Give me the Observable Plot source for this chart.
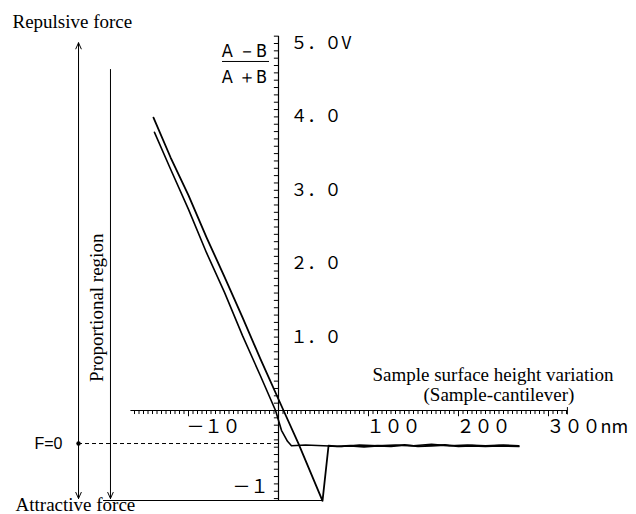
<!DOCTYPE html>
<html><head><meta charset="utf-8">
<script src="https://cdn.jsdelivr.net/npm/d3@7"></script>
<script src="https://cdn.jsdelivr.net/npm/@observablehq/plot@0.6"></script>
<style>body{margin:0;background:#fff}</style>
</head><body><div id="chart"></div>
<script>
// ---- data (x in nm, y in V) ----
const retractX = [-138.9,-120,-100,-80,-60,-40,-20,5.6,22.2,48.9,55.6,65,80,95,110,125,140,155,170,185,200,215,230,245,267];
const retractV = [3.99,3.45,2.93,2.36,1.82,1.27,0.70,0,-0.45,-1.23,-0.48,-0.49,-0.48,-0.495,-0.48,-0.49,-0.47,-0.49,-0.48,-0.47,-0.49,-0.48,-0.49,-0.48,-0.49];
const approachX = [-137.8,-120,-100,-80,-60,-40,-20,-3.3,3.3,10,14.4,30,50,70,90,110,130,150,170,190,210,230,250,267];
const approachV = [3.79,3.29,2.74,2.15,1.61,1.02,0.47,0,-0.27,-0.42,-0.48,-0.47,-0.48,-0.49,-0.47,-0.48,-0.47,-0.48,-0.46,-0.48,-0.47,-0.48,-0.47,-0.48];

const yLabelValues = [5,4,3,2,1];
const yLabels = ["５．０V","４．０","３．０","２．０","１．０"];
const yNegValues = [-1];
const yNegLabels = ["－１"];
const xLabelValues = [-100,100,200,300];
const xLabels = ["－１０","１００","２００","３００nm"];

const fLevel = -0.45;            // F=0 level (V)
const xAxisStart = -164, xAxisEnd = 321;
const yAxisBottom = -1.226, yAxisTop = 5.1;
const xTicks = d3.range(-160, 321, 5);
const yTicks = d3.range(-12, 52, 1).map(d => d / 10);

const retract = retractX.map((x, i) => ({x, v: retractV[i]}));
const approach = approachX.map((x, i) => ({x, v: approachV[i]}));

const serif = "Liberation Serif, Times New Roman, serif";
const cjk = "Noto Sans CJK JP, sans-serif";
const narrow = "Liberation Sans Narrow, DejaVu Sans Condensed, Arial Narrow, Liberation Sans, sans-serif";

const annotations = [
  {x: -295.6, v: 5.30, text: "Repulsive force", anchor: "start", rotate: 0, font: serif, size: 19},
  {x: -292.2, v: -1.281, text: "Attractive force", anchor: "start", rotate: 0, font: serif, size: 19},
  {x: -202.2, v: 1.40, text: "Proportional region", anchor: "middle", rotate: -90, font: serif, size: 19},
  {x: 104.4, v: 0.49, text: "Sample surface height variation", anchor: "start", rotate: 0, font: serif, size: 19},
  {x: 161.1, v: 0.218, text: "(Sample-cantilever)", anchor: "start", rotate: 0, font: serif, size: 19},
  {x: -240, v: fLevel, text: "F=0", anchor: "end", rotate: 0, font: "Liberation Sans, Arial, sans-serif", size: 16},
  {x: -37.8, v: 4.90, text: "A －B", anchor: "middle", rotate: 0, font: narrow, size: 18},
  {x: -37.8, v: 4.54, text: "A ＋B", anchor: "middle", rotate: 0, font: narrow, size: 18}
];

const plot = Plot.plot({
  width: 636, height: 514,
  margin: 0,
  x: {domain: [-278/0.9, (636-278)/0.9], axis: null},
  y: {domain: [-104/73.4, 410/73.4], axis: null},
  style: {background: "white", overflow: "visible"},
  marks: [
    // y axis
    Plot.ruleX([0], {y1: yAxisBottom, y2: yAxisTop, stroke: "black", strokeWidth: 1.2}),
    Plot.ruleY(yTicks, {y: d => d, x1: 0, x2: -4.6, stroke: "black", strokeWidth: 1}),
    // x axis
    Plot.ruleY([0], {x1: xAxisStart, x2: xAxisEnd, stroke: "black", strokeWidth: 1.2}),
    Plot.ruleX(xTicks, {x: d => d, y1: 0, y2: d => d % 100 === 0 ? -0.085 : -0.055, stroke: "black", strokeWidth: 1}),
    Plot.ruleX([xAxisEnd], {y1: 0.04, y2: -0.06, stroke: "black"}),
    // tick labels
    Plot.text(yLabelValues, {x: 0, y: d => d, text: (d, i) => yLabels[i], textAnchor: "start", dx: 12, fontSize: 17, fontFamily: cjk, fill: "black"}),
    Plot.text(yNegValues, {x: 0, y: d => d, text: (d, i) => yNegLabels[i], textAnchor: "end", dx: -10, dy: 3, fontSize: 18, fontFamily: cjk, fill: "black"}),
    Plot.text(xLabelValues, {x: d => d, y: 0, text: (d, i) => xLabels[i], textAnchor: "start", dx: -2, dy: 17, fontSize: 18, fontFamily: cjk, fill: "black"}),
    // guides: force arrows, proportional region, F=0 line, bottom line
    Plot.arrow([0], {x1: -222.2, x2: -222.2, y1: -1.19, y2: 5.01, stroke: "black", strokeWidth: 1, headLength: 10, headAngle: 48}),
    Plot.arrow([0], {x1: -222.2, x2: -222.2, y1: 5.0, y2: -1.199, stroke: "black", strokeWidth: 1, headLength: 10, headAngle: 48}),
    Plot.arrow([0], {x1: -186.7, x2: -186.7, y1: 4.646, y2: -1.199, stroke: "black", strokeWidth: 1, headLength: 10, headAngle: 48}),
    Plot.ruleY([yAxisBottom], {x1: -194.4, x2: 48.9, stroke: "black", strokeWidth: 1.2}),
    Plot.ruleY([fLevel], {x1: -222.2, x2: 3, stroke: "black", strokeWidth: 1, strokeDasharray: "4,3"}),
    Plot.dot([fLevel], {x: -222.2, y: d => d, r: 2.2, fill: "black", stroke: null}),
    // fraction bar
    Plot.ruleY([4.755], {x1: -62.2, x2: -10, stroke: "black", strokeWidth: 1}),
    // curves
    Plot.line(approach, {x: "x", y: "v", stroke: "black", strokeWidth: 1.6}),
    Plot.line(retract, {x: "x", y: "v", stroke: "black", strokeWidth: 1.8}),
    // annotations
    ...annotations.map(a => Plot.text([a], {x: "x", y: "v", text: "text", textAnchor: a.anchor, rotate: a.rotate, fontFamily: a.font, fontSize: a.size, fill: "black"}))
  ]
});
document.getElementById("chart").append(plot);
</script></body></html>
